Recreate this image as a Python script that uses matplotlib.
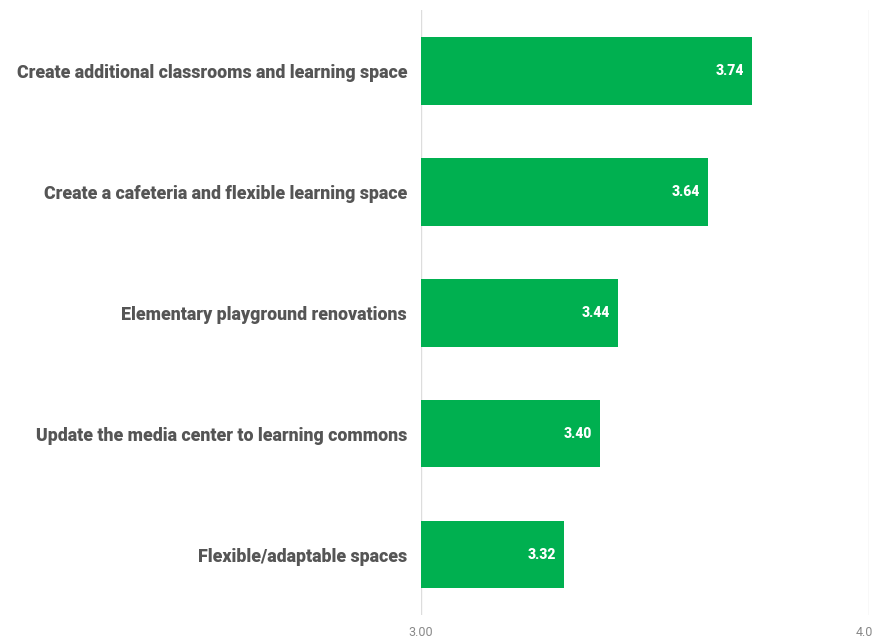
import matplotlib.pyplot as plt
import matplotlib.transforms as mtransforms

# 各项目的平均评分
labels = ['Create additional classrooms and learning space',
          'Create a cafeteria and flexible learning space',
          'Elementary playground renovations',
          'Update the media center to learning commons',
          'Flexible/adaptable spaces']
scores = [3.74, 3.64, 3.44, 3.40, 3.32]
tick_vals = [3.0, 4.0]
tick_text = ['3.00', '4.0']

plt.rcParams['font.family'] = ['Roboto', 'DejaVu Sans']

fig = plt.figure(figsize=(8.75, 6.4), dpi=100)
ax = fig.add_axes([0.4811, 0.039, 0.512, 0.945])

y = range(len(labels))
ax.barh(y, [s - 3.0 for s in scores], left=3.0, height=0.56, color='#00b050')

# 数值标签放在柱形内部右侧
for i, s in enumerate(scores):
    ax.text(s - 0.018, i, f'{s:.2f}', ha='right', va='center',
            color='white', fontsize=10, fontweight='heavy')

ax.set_xlim(3.0, 4.0)
ax.set_ylim(4.5, -0.5)
ax.set_yticks(list(y))
ax.set_yticklabels(labels, fontsize=12.8, fontweight='heavy', color='#555555')
ax.set_xticks(tick_vals)
ax.set_xticklabels(tick_text, fontsize=9, color='#888888')
ax.tick_params(axis='y', length=0, pad=10)
ax.tick_params(axis='x', length=0, pad=8)
ax.grid(axis='x', color='#dddddd', linewidth=1)
ax.set_axisbelow(True)
for sp in ax.spines.values():
    sp.set_visible(False)

# 右端刻度标签稍微左移，避免超出画布
last = ax.get_xticklabels()[-1]
last.set_transform(last.get_transform() +
                   mtransforms.ScaledTranslation(-5 / 100, 0, fig.dpi_scale_trans))

plt.savefig('out.png')
